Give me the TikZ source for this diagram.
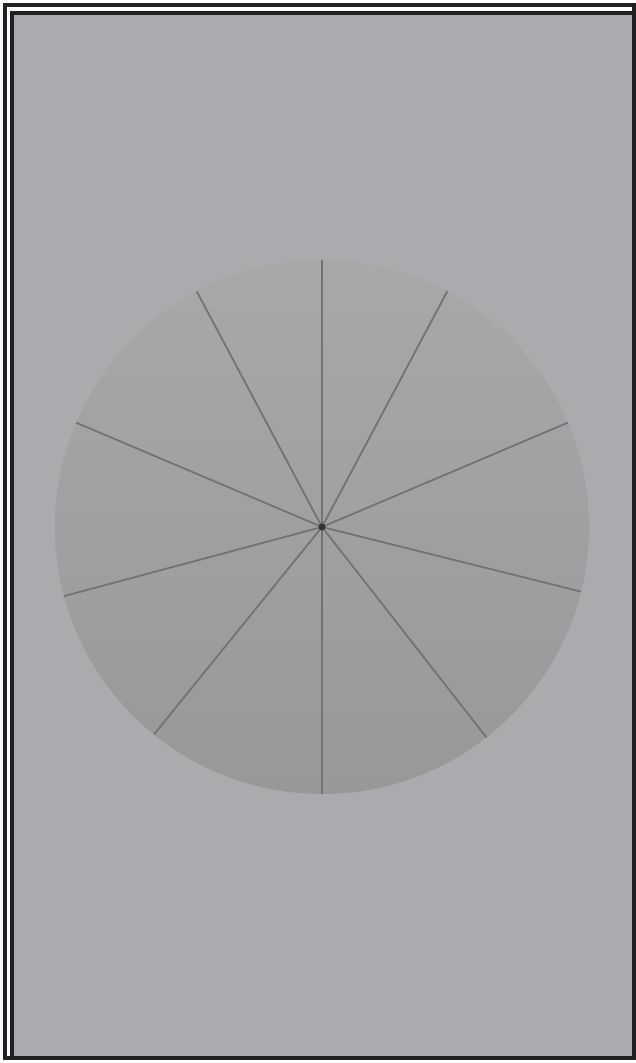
\documentclass[tikz,border=0pt]{standalone}
\usetikzlibrary{calc}
\definecolor{panelgray}{RGB}{170,171,175}
\definecolor{disctop}{RGB}{168,168,168}
\definecolor{discbot}{RGB}{152,152,152}
\definecolor{spokegray}{RGB}{115,115,117}
\definecolor{framedark}{RGB}{35,32,33}
\begin{document}
\begin{tikzpicture}[x=1pt,y=1pt]
    \def\r{267}
    \useasboundingbox (0,0) rectangle (636,1063);
    \fill[white] (0,0) rectangle (636,1063);
    \draw[framedark, line width=4pt] (5,1057.5) rectangle (633.5,4.5);
    \fill[panelgray] (12,1050) rectangle (633.5,4.5);
    \draw[framedark, line width=4pt] (12,1050) rectangle (633.5,4.5);
    \coordinate (c) at (322,536);
    \shade[top color=disctop, bottom color=discbot] (c) circle (\r);
    \foreach \a [count=\i] in {90,62,23,-14,-52,-90,-129,-165,157,118} {
        \coordinate (s\i) at ($(c)+(\a:\r)$);
        \draw[spokegray, line width=1.8pt] (c) -- (s\i);
    }
    \fill[black!80] (c) circle (3.5);
\end{tikzpicture}
\end{document}
